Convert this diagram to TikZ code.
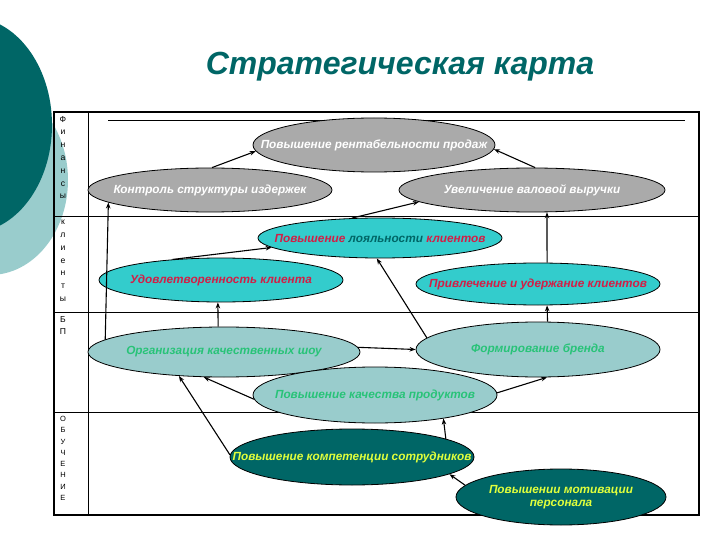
\documentclass[tikz,border=0pt]{standalone}
\usepackage{fontspec}
\setmainfont{Liberation Sans}
\usetikzlibrary{shapes.geometric,arrows.meta}
\definecolor{dteal}{RGB}{0,102,102}
\definecolor{lteal}{RGB}{153,204,204}
\definecolor{cyanfill}{RGB}{51,204,204}
\definecolor{grayfill}{RGB}{170,170,170}
\definecolor{redtext}{RGB}{210,30,70}
\definecolor{greentext}{RGB}{40,195,120}
\definecolor{yellowtext}{RGB}{225,255,60}
\newcommand{\zw}[1]{\makebox[0pt]{#1}}
\tikzset{
  ell/.style={ellipse, draw=black, line width=0.8pt, inner sep=0pt,
    font=\fontsize{11.8}{14}\selectfont\bfseries\itshape},
  grayell/.style={ell, fill=grayfill, text=white},
  cyanell/.style={ell, fill=cyanfill, text=redtext},
  ltell/.style={ell, fill=lteal, text=greentext},
  dkell/.style={ell, fill=dteal, text=yellowtext},
  arr/.style={line width=1.1pt, -{Stealth[length=6pt,width=4.5pt]}},
  grid/.style={line width=0.8pt},
  letters/.style={font=\fontsize{8.6}{12.8}\selectfont, align=center, anchor=north, inner sep=0pt},
}
\begin{document}
\begin{tikzpicture}[x=1pt,y=-1pt]
\useasboundingbox (0,0) rectangle (720,540);
% left decoration
\fill[lteal] (-10,180) ellipse [x radius=78, y radius=95];
\fill[dteal] (-30,125) ellipse [x radius=82, y radius=108];
% title
\node[font=\fontsize{32}{36}\selectfont\bfseries\itshape, text=dteal] (title) at (400,67) {Стратегическая карта};
% frame
\draw[line width=2pt] (54,112) rectangle (699,515);
\draw[grid] (88,112) -- (88,515);
\draw[grid] (54,216) -- (699,216);
\draw[grid] (54,312) -- (699,312);
\draw[grid] (54,412) -- (699,412);
\draw[line width=0.6pt] (108,120) -- (685,120);
% row labels
\node[letters] (l1) at (63,116) {Ф\\и\\н\\а\\н\\с\\ы};
\node[letters] (l2) at (63,220) {к\\л\\и\\е\\н\\т\\ы};
\node[letters] (l3) at (63,316) {Б\\П};
\node[letters, font=\fontsize{7.5}{11.3}\selectfont] (l4) at (63,416) {О\\Б\\У\\Ч\\Е\\Н\\И\\Е};
% ellipses
\node[grayell, minimum width=242, minimum height=54] (R) at (374,145) {\zw{Повышение рентабельности продаж}};
\node[grayell, minimum width=244, minimum height=44] (K) at (210,190) {\zw{Контроль структуры издержек}};
\node[grayell, minimum width=266, minimum height=44] (U) at (532,190) {\zw{Увеличение валовой выручки}};
\node[cyanell, minimum width=244, minimum height=40] (L) at (380,238) {\zw{Повышение \textcolor{dteal}{лояльности} клиентов}};
\node[cyanell, minimum width=244, minimum height=44] (S) at (221,280) {\zw{Удовлетворенность клиента}};
\node[cyanell, minimum width=244, minimum height=42] (P) at (538,284) {\zw{Привлечение и удержание клиентов}};
\node[ltell, minimum width=272, minimum height=50] (O) at (224,352) {\zw{Организация качественных шоу}};
\node[ltell, minimum width=244, minimum height=55] (F) at (538,349.5) {\zw{Формирование бренда}};
\node[ltell, minimum width=244, minimum height=56] (Q) at (375,395) {\zw{Повышение качества продуктов}};
\node[dkell, minimum width=244, minimum height=56] (C) at (352,457) {\zw{Повышение компетенции сотрудников}};
\node[dkell, minimum width=210, minimum height=56] (M) at (561,497) {\zw{\shortstack{Повышении мотивации\\[1pt]персонала}}};
% connectors
\draw[arr] (K.85) -- (R.183);
\draw[arr] (U.82) -- (R.-2);
\draw[arr] (L.145) -- (U.186);
\draw[arr] (P.67) -- (U.304.5);
\draw[arr] (S.157) -- (L.185);
\draw[arr] (O.174) -- (K.187);
\draw[arr] (O.103.5) -- (S.262.2);
\draw[arr] (F.174) -- (L.261.5);
\draw[arr] (F.71.8) -- (P.293.2);
\draw[arr] (O.2) -- (F.west);
\draw[arr] (Q.182) -- (O.231);
\draw[arr] (Q.1) -- (F.288);
\draw[arr] (C.179) -- (O.208);
\draw[arr] (C.11) -- (Q.341.9);
\draw[arr] (M.173) -- (C.350);
\end{tikzpicture}
\end{document}
